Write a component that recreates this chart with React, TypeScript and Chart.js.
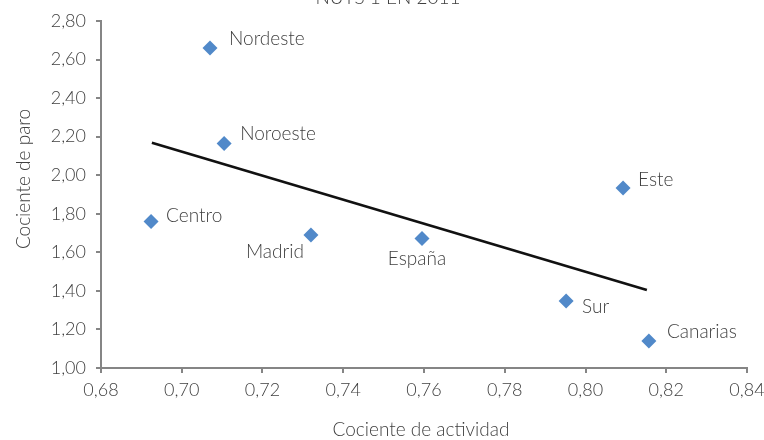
import React, { useEffect, useRef } from "react";
import { Chart, registerables } from "chart.js";

Chart.register(...registerables);

const regions = ["Nordeste", "Noroeste", "Centro", "Madrid", "España", "Este", "Sur", "Canarias"];
const activityRatio = [0.707, 0.7105, 0.6924, 0.732, 0.7595, 0.8093, 0.7952, 0.8157];
const unemploymentRatio = [2.66, 2.165, 1.76, 1.69, 1.672, 1.934, 1.347, 1.14];
const trendX = [0.6926, 0.8152];
const trendY = [2.168, 1.405];

const chartTitle = "NUTS 1 EN 2011";
const xTitle = "Cociente de actividad";
const yTitle = "Cociente de paro";

// label placement (pixel offsets from the marker) and alignment
const labelPlacement: Record<string, { dx: number; dy: number; align: CanvasTextAlign }> = {
  Nordeste: { dx: 19, dy: -9, align: "left" },
  Noroeste: { dx: 16, dy: -10, align: "left" },
  Centro: { dx: 15, dy: -6, align: "left" },
  Madrid: { dx: -7, dy: 17, align: "right" },
  "España": { dx: -5, dy: 20, align: "center" },
  Este: { dx: 15, dy: -8, align: "left" },
  Sur: { dx: 16, dy: 6, align: "left" },
  Canarias: { dx: 18, dy: -9, align: "left" },
};

const FONT = "Lato";
const TEXT = "#3f3f3f";
const AXIS = "#858585";
const SHIFT = 20; // canvas is shifted up by this many px

const textPlugin = {
  id: "texts",
  afterDatasetsDraw(chart: any) {
    const ctx = chart.ctx;
    const meta = chart.getDatasetMeta(0);
    ctx.save();
    ctx.fillStyle = TEXT;
    ctx.textBaseline = "middle";
    ctx.font = `300 19px ${FONT}`;
    meta.data.forEach((pt: any, i: number) => {
      const name = regions[i];
      const p = labelPlacement[name];
      ctx.textAlign = p.align;
      ctx.fillText(name, pt.x + p.dx, pt.y + p.dy);
    });
    const area = chart.chartArea;
    // title (mostly cut off at top)
    ctx.font = `300 19px ${FONT}`;
    ctx.textAlign = "center";
    ctx.textBaseline = "alphabetic";
    ctx.fillText(chartTitle, 388, SHIFT + 4);
    // x axis title
    ctx.textBaseline = "middle";
    ctx.fillText(xTitle, 421, SHIFT + 430);
    // y axis title
    ctx.translate(24, SHIFT + 179);
    ctx.rotate(-Math.PI / 2);
    ctx.fillText(yTitle, 0, 0);
    ctx.restore();
  },
};

export default function App() {
  const ref = useRef<HTMLCanvasElement | null>(null);
  useEffect(() => {
    if (!ref.current) return;
    const chart = new Chart(ref.current, {
      type: "scatter",
      data: {
        datasets: [
          {
            label: "Regiones",
            data: regions.map((_, i) => ({ x: activityRatio[i], y: unemploymentRatio[i] })),
            pointStyle: "rectRot",
            pointRadius: 7.5,
            pointBackgroundColor: "#5189c9",
            pointBorderWidth: 0,
            showLine: false,
          },
          {
            label: "Tendencia",
            data: trendX.map((x, i) => ({ x, y: trendY[i] })),
            showLine: true,
            borderColor: "#111111",
            borderWidth: 2.6,
            pointRadius: 0,
          },
        ],
      },
      options: {
        animation: false,
        responsive: false,
        maintainAspectRatio: false,
        layout: { padding: { left: 0, right: 17, top: SHIFT + 21, bottom: 0 } },
        plugins: {
          legend: { display: false },
          tooltip: { enabled: false },
          title: { display: false },
        },
        scales: {
          x: {
            type: "linear",
            min: 0.68,
            max: 0.84,
            afterFit: (s: any) => {
              s.height = 460 - (SHIFT + 368);
              s.paddingLeft = 0;
              s.paddingRight = 0;
            },
            ticks: {
              stepSize: 0.02,
              color: TEXT,
              padding: 6,
              font: { family: FONT, size: 18, weight: 300 },
              callback: (v: any) => Number(v).toFixed(2).replace(".", ","),
            },
            grid: { drawOnChartArea: false, drawTicks: true, tickLength: 5, color: AXIS, lineWidth: 2 },
            border: { color: AXIS, width: 2 },
          },
          y: {
            type: "linear",
            min: 1.0,
            max: 2.8,
            afterFit: (s: any) => {
              s.width = 101;
              s.paddingTop = 0;
              s.paddingBottom = 0;
            },
            ticks: {
              stepSize: 0.2,
              color: TEXT,
              padding: 10,
              font: { family: FONT, size: 18, weight: 300 },
              callback: (v: any) => Number(v).toFixed(2).replace(".", ","),
            },
            grid: { drawOnChartArea: false, drawTicks: true, tickLength: 5, color: AXIS, lineWidth: 2 },
            border: { color: AXIS, width: 2 },
          },
        },
      },
      plugins: [textPlugin],
    });
    return () => chart.destroy();
  }, []);
  return (
    <div style={{ position: "fixed", left: 0, top: -SHIFT, width: 764, height: 460 }}>
      <canvas ref={ref} width={764} height={460} style={{ width: 764, height: 460, display: "block" }} />
    </div>
  );
}
